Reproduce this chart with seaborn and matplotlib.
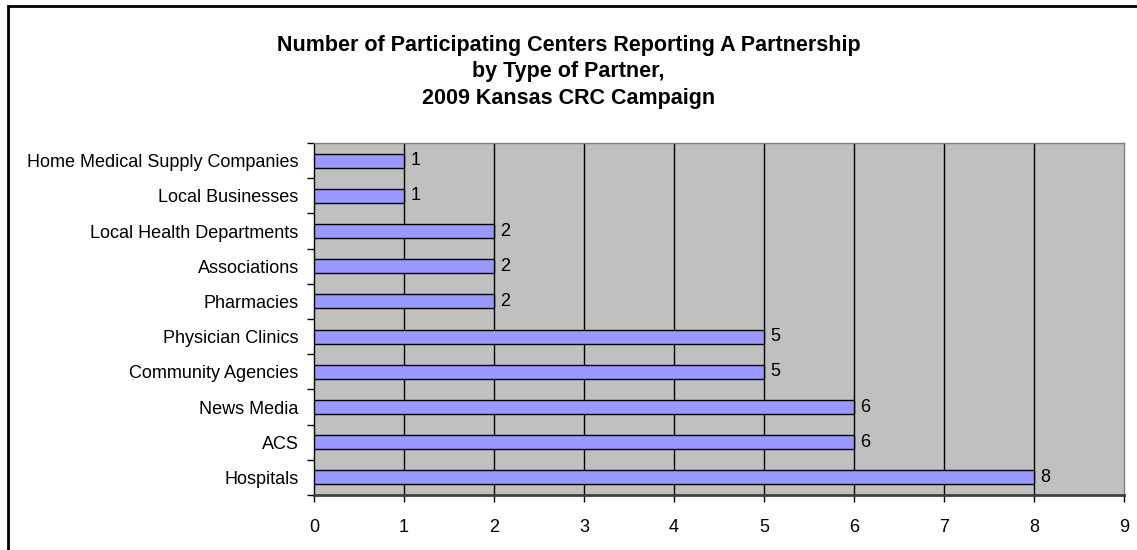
import matplotlib
matplotlib.use("Agg")
import matplotlib.pyplot as plt
from matplotlib.patches import Rectangle
import seaborn as sns
import pandas as pd

# Dữ liệu
partners = ["Home Medical Supply Companies", "Local Businesses", "Local Health Departments",
            "Associations", "Pharmacies", "Physician Clinics", "Community Agencies",
            "News Media", "ACS", "Hospitals"]
counts = [1, 1, 2, 2, 2, 5, 5, 6, 6, 8]
x_ticks = [0, 1, 2, 3, 4, 5, 6, 7, 8, 9]

df = pd.DataFrame({"partner": partners, "count": counts})

sns.set_style("white")
plt.rcParams["font.family"] = ["Liberation Sans", "DejaVu Sans"]
plt.rcParams["text.color"] = "black"
plt.rcParams["xtick.color"] = "black"
plt.rcParams["ytick.color"] = "black"

fig = plt.figure(figsize=(11.37, 5.5), dpi=100)
ax = fig.add_axes([314 / 1137, 1 - 495 / 550, (1124 - 314) / 1137, (495 - 143) / 550])
ax.set_facecolor("#C0C0C0")

sns.barplot(data=df, y="partner", x="count", order=partners, orient="h",
            color="#9999FF", edgecolor="black", linewidth=1, width=0.4,
            saturation=1, ax=ax, zorder=3)

ax.set_xlim(0, 9)
ax.set_ylim(len(partners) - 0.5, -0.5)
ax.set_xticks(x_ticks)
ax.set_xticklabels([str(t) for t in x_ticks], fontsize=13)
for t in x_ticks[1:-1]:
    ax.axvline(t, color="black", lw=1, zorder=1)

# nhãn trục y giữa các ô, vạch ở ranh giới
ax.set_yticks(range(len(partners)))
ax.set_yticklabels(partners, fontsize=13)
ax.tick_params(axis="y", which="major", left=True, length=0, pad=11)
ax.set_yticks([i - 0.5 for i in range(len(partners) + 1)], minor=True)
ax.tick_params(axis="y", which="minor", left=True, length=5, width=1, color="black", direction="out")
ax.tick_params(axis="x", bottom=True, length=5, width=1, color="black", direction="out", pad=12)
ax.set_xlabel("")
ax.set_ylabel("")

for spine in ["top", "right"]:
    ax.spines[spine].set_color("#808080")
    ax.spines[spine].set_linewidth(1)
ax.spines["left"].set_color("black")
ax.spines["left"].set_linewidth(1)
ax.spines["bottom"].set_color("#404040")
ax.spines["bottom"].set_linewidth(2)

for i, v in enumerate(counts):
    ax.text(v + 0.07, i, str(v), va="center", ha="left", fontsize=13, zorder=4)

fig.text(0.5, 1 - 72 / 550,
         "Number of Participating Centers Reporting A Partnership\nby Type of Partner,\n2009 Kansas CRC Campaign",
         ha="center", va="center", fontsize=15.5, fontweight="bold", linespacing=1.32)

# khung ngoài
fig.patches.append(Rectangle((8 / 1137, -0.1), 1.2, 1 - 6 / 550 + 0.1, transform=fig.transFigure,
                             fill=False, edgecolor="black", lw=2))

fig.savefig("out.png", dpi=100)
